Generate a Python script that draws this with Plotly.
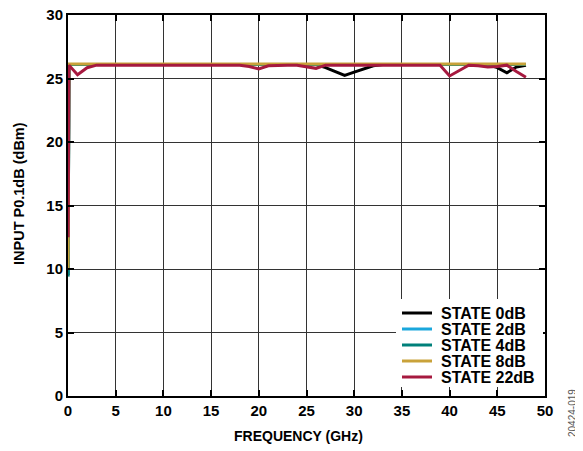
import plotly.graph_objects as go

freq = [0.01, 0.1] + list(range(1, 49))

base = [26.1] * 48

state_0db = [9.5, 26.1] + base.copy()
state_2db = [9.6, 26.1] + base.copy()
state_4db = [9.4, 26.1] + base.copy()
state_8db = [10.0, 26.15] + [26.15] * 48
state_22db = [12.5, 26.05] + [26.05] * 48

# black (0dB) deviations, index = freq GHz + 1
for f, v in {27: 25.85, 28: 25.55, 29: 25.25, 30: 25.5, 31: 25.75, 32: 26.0,
             45: 25.85, 46: 25.45, 47: 25.9, 48: 26.05}.items():
    state_0db[f + 1] = v
# red (22dB) deviations
for f, v in {1: 25.3, 2: 25.85, 19: 25.95, 20: 25.75, 21: 26.0,
             25: 25.95, 26: 25.8, 40: 25.2, 41: 25.65, 43: 26.0, 44: 25.9,
             45: 25.95, 47: 25.55, 48: 25.1}.items():
    state_22db[f + 1] = v

names = ["STATE 0dB", "STATE 2dB", "STATE 4dB", "STATE 8dB", "STATE 22dB"]
colors = ["#000000", "#1aa7dc", "#00807a", "#c9a23a", "#a6193f"]
series = [state_0db, state_2db, state_4db, state_8db, state_22db]

x_ticks = [0, 5, 10, 15, 20, 25, 30, 35, 40, 45, 50]
y_ticks = [0, 5, 10, 15, 20, 25, 30]

FONT = "Arial, Liberation Sans, sans-serif"

# page offset (browser body margin)
OFF = 8
FIG_W, FIG_H = 583 - OFF, 451 - OFF
# plot area in page pixels
PLOT_L, PLOT_R, PLOT_T, PLOT_B = 68, 545, 15, 396
W, H = PLOT_R - PLOT_L, PLOT_B - PLOT_T

fig = go.Figure()
for n, c, s in zip(names, colors, series):
    fig.add_trace(go.Scatter(x=freq, y=s, mode="lines", name=n,
                             line=dict(color=c, width=3), showlegend=False))

axis_common = dict(showgrid=True, gridcolor="#333333", gridwidth=1.2,
                   showline=True, linecolor="black", linewidth=2, mirror="ticks",
                   ticks="inside", ticklen=6, tickcolor="black", tickwidth=1.5,
                   zeroline=False, automargin=False, ticklabeloverflow="allow",
                   tickfont=dict(family=FONT, size=15, color="black", weight="bold"))

fig.update_xaxes(range=[0, 50], tickvals=x_ticks, **axis_common)
fig.update_yaxes(range=[0, 30], tickvals=y_ticks, **axis_common)


def px(xp):
    return (xp - PLOT_L) / W


def py(yp):
    return (PLOT_B - yp) / H


shapes = [dict(type="rect", xref="paper", yref="paper", layer="above",
               x0=px(396), x1=px(543), y0=py(387), y1=py(299),
               fillcolor="white", line=dict(width=0))]
annotations = []
row_y = [313, 329, 345, 361, 377]
for n, c, yy in zip(names, colors, row_y):
    shapes.append(dict(type="line", xref="paper", yref="paper", layer="above",
                       x0=px(402), x1=px(432), y0=py(yy), y1=py(yy),
                       line=dict(color=c, width=3)))
    annotations.append(dict(text="<b>%s</b>" % n, xref="paper", yref="paper",
                            x=px(439), y=py(yy), xanchor="left", yanchor="middle",
                            showarrow=False,
                            font=dict(family=FONT, size=16, color="black")))

annotations += [
    dict(text="<b>FREQUENCY (GHz)</b>", xref="paper", yref="paper",
         x=px(298), y=py(436), xanchor="center", yanchor="middle",
         showarrow=False, font=dict(family=FONT, size=14, color="black")),
    dict(text="<b>INPUT P0.1dB (dBm)</b>", xref="paper", yref="paper",
         x=px(19), y=py(194), xanchor="center", yanchor="middle", textangle=-90,
         showarrow=False, font=dict(family=FONT, size=14.5, color="black")),
    dict(text="20424-019", xref="paper", yref="paper",
         x=px(572), y=py(413), xanchor="center", yanchor="middle",
         textangle=-90, showarrow=False,
         font=dict(family=FONT, size=10, color="#555555")),
]

fig.update_layout(
    width=FIG_W, height=FIG_H,
    margin=dict(l=PLOT_L - OFF, r=583 - PLOT_R, t=PLOT_T - OFF, b=451 - PLOT_B,
                autoexpand=False),
    plot_bgcolor="white", paper_bgcolor="white",
    font=dict(family=FONT, color="black"),
    showlegend=False,
    shapes=shapes,
    annotations=annotations,
)

fig.write_html("out.html")
